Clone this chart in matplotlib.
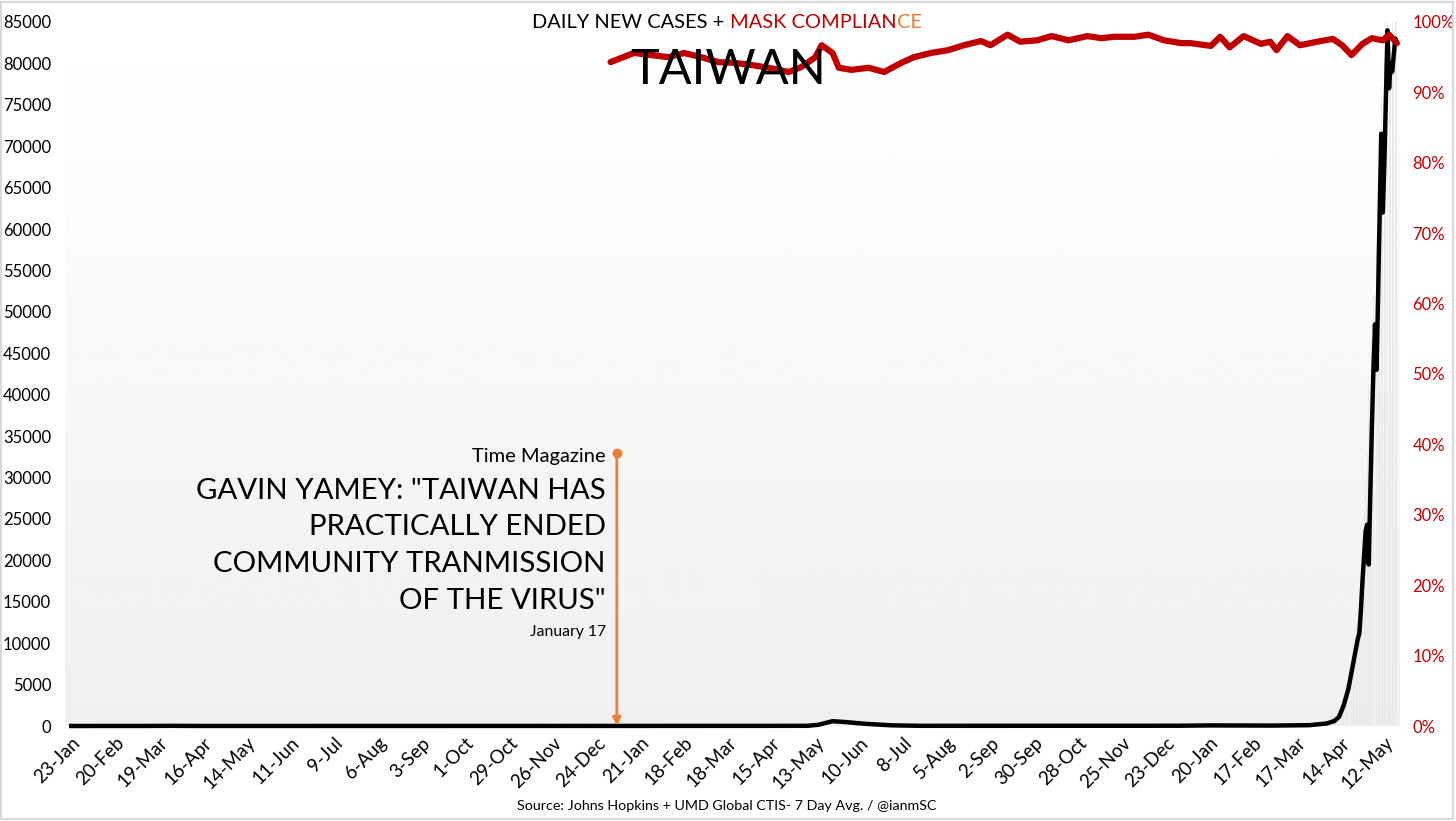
import matplotlib
matplotlib.use('Agg')
import matplotlib.pyplot as plt
from matplotlib.patches import Rectangle
from matplotlib.ticker import PercentFormatter
import numpy as np
import pandas as pd

plt.rcParams['font.family'] = ['Lato', 'DejaVu Sans']

# 7 day avg of new cases
case_dates = pd.to_datetime([
    '2020-01-23', '2020-03-10', '2020-03-25', '2020-04-15', '2020-12-31', '2021-05-08',
    '2021-05-15', '2021-05-24', '2021-06-01', '2021-06-15', '2021-07-01', '2021-07-20',
    '2021-12-31', '2022-01-20', '2022-03-01', '2022-03-25', '2022-04-05', '2022-04-10',
    '2022-04-13', '2022-04-16', '2022-04-19', '2022-04-22', '2022-04-25', '2022-04-26',
    '2022-04-27', '2022-04-28', '2022-04-30', '2022-05-01', '2022-05-02', '2022-05-03',
    '2022-05-04', '2022-05-05', '2022-05-06', '2022-05-07', '2022-05-08', '2022-05-09',
    '2022-05-10', '2022-05-11', '2022-05-12', '2022-05-13', '2022-05-14', '2022-05-15',
    '2022-05-16', '2022-05-17', '2022-05-18', '2022-05-19', '2022-05-20'])
case_avg = [
    0, 5, 20, 5, 10, 20,
    150, 580, 480, 250, 80, 20,
    30, 70, 50, 100, 300, 600,
    1100, 2500, 4500, 7500, 10500, 11200,
    14000, 17500, 23500, 24300, 19500, 28000,
    36000, 43000, 48500, 43000, 52000, 62000,
    71500, 62000, 68000, 76000, 84000, 77000,
    80000, 79000, 81000, 83000, 82500]

# daily new cases (grey columns)
bar_dates = pd.date_range('2022-04-10', '2022-05-20')
bar_values = [
    500, 900, 1200, 1400, 2400, 3100, 3500, 4000, 5200, 6200,
    7200, 8500, 10000, 11500, 12500, 12000, 14000, 17000, 21000, 26000,
    30000, 33000, 41000, 36000, 45000, 52000, 50000, 58000, 64000, 72000,
    76000, 70000, 80000, 85000, 85000, 78000, 82000, 85000, 84000, 85000, 85000]

# mask compliance, percent
mask_dates = pd.to_datetime([
    '2021-01-02', '2021-01-17', '2021-01-28', '2021-02-08', '2021-02-18', '2021-03-01',
    '2021-03-12', '2021-03-22', '2021-04-02', '2021-04-13', '2021-04-26', '2021-05-04',
    '2021-05-13', '2021-05-17', '2021-05-24', '2021-05-28', '2021-06-05', '2021-06-16',
    '2021-06-26', '2021-07-07', '2021-07-15', '2021-07-26', '2021-08-06', '2021-08-16',
    '2021-08-27', '2021-09-02', '2021-09-13', '2021-09-21', '2021-10-02', '2021-10-11',
    '2021-10-22', '2021-11-03', '2021-11-12', '2021-11-20', '2021-12-03', '2021-12-12',
    '2021-12-22', '2022-01-02', '2022-01-08', '2022-01-21', '2022-01-27', '2022-02-02',
    '2022-02-11', '2022-02-22', '2022-02-28', '2022-03-04', '2022-03-11', '2022-03-19',
    '2022-03-30', '2022-04-09', '2022-04-15', '2022-04-21', '2022-04-28', '2022-05-04',
    '2022-05-11', '2022-05-15', '2022-05-20'])
mask_pct = [
    94.3, 95.6, 95.3, 95.0, 95.6, 95.0,
    94.3, 94.2, 93.9, 93.5, 92.9, 93.6,
    95.0, 96.7, 95.6, 93.5, 93.2, 93.5,
    92.9, 94.2, 95.0, 95.6, 96.0, 96.7,
    97.3, 96.7, 98.2, 97.2, 97.4, 98.0,
    97.4, 98.0, 97.7, 97.9, 97.9, 98.2,
    97.4, 97.0, 97.0, 96.6, 97.9, 96.4,
    98.0, 96.9, 97.2, 96.0, 98.0, 96.7,
    97.2, 97.6, 96.7, 95.3, 96.9, 97.7,
    97.4, 98.2, 97.0]

tick_dates = pd.date_range('2020-01-23', '2022-05-12', freq='28D')
tick_labels = [f'{d.day}-{d.strftime("%b")}' for d in tick_dates]

arrow_date = pd.Timestamp('2021-01-06')
arrow_top = 33000

RED = '#c00000'
ORANGE = '#ed7d31'

fig = plt.figure(figsize=(14.56, 8.21), dpi=100)
pos = [65 / 1456, 1 - 726 / 821, (1400 - 65) / 1456, (726 - 22) / 821]

# grey gradient behind the plot area
bg = fig.add_axes(pos, zorder=-1)
grad = np.linspace(0.94, 1.0, 256).reshape(-1, 1)
bg.imshow(grad, cmap='gray', vmin=0, vmax=1, aspect='auto', origin='lower',
          extent=[0, 1, 0, 1])
bg.axis('off')

ax = fig.add_axes(pos)
ax.patch.set_visible(False)
ax.bar(bar_dates, bar_values, width=0.6, color='#e9e9e9', zorder=1)
ax.plot(case_dates, case_avg, color='black', lw=3.2, zorder=3, clip_on=False)

ax.annotate('', xy=(arrow_date, 0), xytext=(arrow_date, arrow_top),
            arrowprops=dict(arrowstyle='-|>', color=ORANGE, lw=2,
                            mutation_scale=12, shrinkA=0, shrinkB=0), zorder=4)
ax.plot([arrow_date], [arrow_top], 'o', color=ORANGE, ms=6, zorder=4)

ax.annotate('Time Magazine', xy=(arrow_date, 32500), xytext=(-8, 0),
            textcoords='offset points', ha='right', va='center', fontsize=14.5)
quote = ['GAVIN YAMEY: "TAIWAN HAS', 'PRACTICALLY ENDED',
         'COMMUNITY TRANMISSION', 'OF THE VIRUS"']
for line, yv in zip(quote, [28380, 24030, 19570, 15100]):
    ax.annotate(line, xy=(arrow_date, yv), xytext=(-8, 0),
                textcoords='offset points', ha='right', va='center', fontsize=21.2)
ax.annotate('January 17', xy=(arrow_date, 11350), xytext=(-8, 0),
            textcoords='offset points', ha='right', va='center', fontsize=11.3)

ax.set_xlim(pd.Timestamp('2020-01-19'), pd.Timestamp('2022-05-22'))
ax.set_ylim(0, 85000)
ax.set_yticks(range(0, 85001, 5000))
ax.set_xticks(tick_dates)
ax.set_xticklabels(tick_labels, rotation=45, ha='right', rotation_mode='anchor')
ax.tick_params(axis='y', length=0, pad=10, labelsize=12)
ax.tick_params(axis='x', length=0, pad=6, labelsize=13.5)
for s in ax.spines.values():
    s.set_visible(False)

ax2 = ax.twinx()
ax2.plot(mask_dates, np.array(mask_pct) / 100, color=RED, lw=4.5,
         solid_capstyle='round', zorder=3)
ax2.set_ylim(0, 1)
ax2.set_yticks(np.arange(0, 1.01, 0.1))
ax2.yaxis.set_major_formatter(PercentFormatter(1.0, decimals=0))
ax2.tick_params(axis='y', length=0, pad=9, labelsize=12, labelcolor=RED)
for s in ax2.spines.values():
    s.set_visible(False)

# title in three colours, centred as a whole
parts = [('DAILY NEW CASES + ', 'black'), ('MASK COMPLIAN', RED), ('CE', ORANGE)]
texts = [fig.text(0, 1 - 22 / 821, p, color=c, fontsize=14.4, va='center')
         for p, c in parts]
fig.canvas.draw()
r = fig.canvas.get_renderer()
widths = [t.get_window_extent(r).width / fig.bbox.width for t in texts]
x0 = 727 / 1456 - sum(widths) / 2
for t, w in zip(texts, widths):
    t.set_x(x0)
    x0 += w

fig.text(728 / 1456, 1 - 70 / 821, 'TAIWAN', fontsize=35,
         ha='center', va='center', zorder=10)
fig.text(727 / 1456, 1 - 806 / 821,
         'Source: Johns Hopkins + UMD Global CTIS- 7 Day Avg. / @ianmSC',
         fontsize=10.3, ha='center', va='center')

fig.patches.append(Rectangle((0.001, 0.002), 0.997, 0.995, transform=fig.transFigure,
                             fill=False, ec='#d9d9d9', lw=1.5))

fig.savefig('out.png', dpi=100)
